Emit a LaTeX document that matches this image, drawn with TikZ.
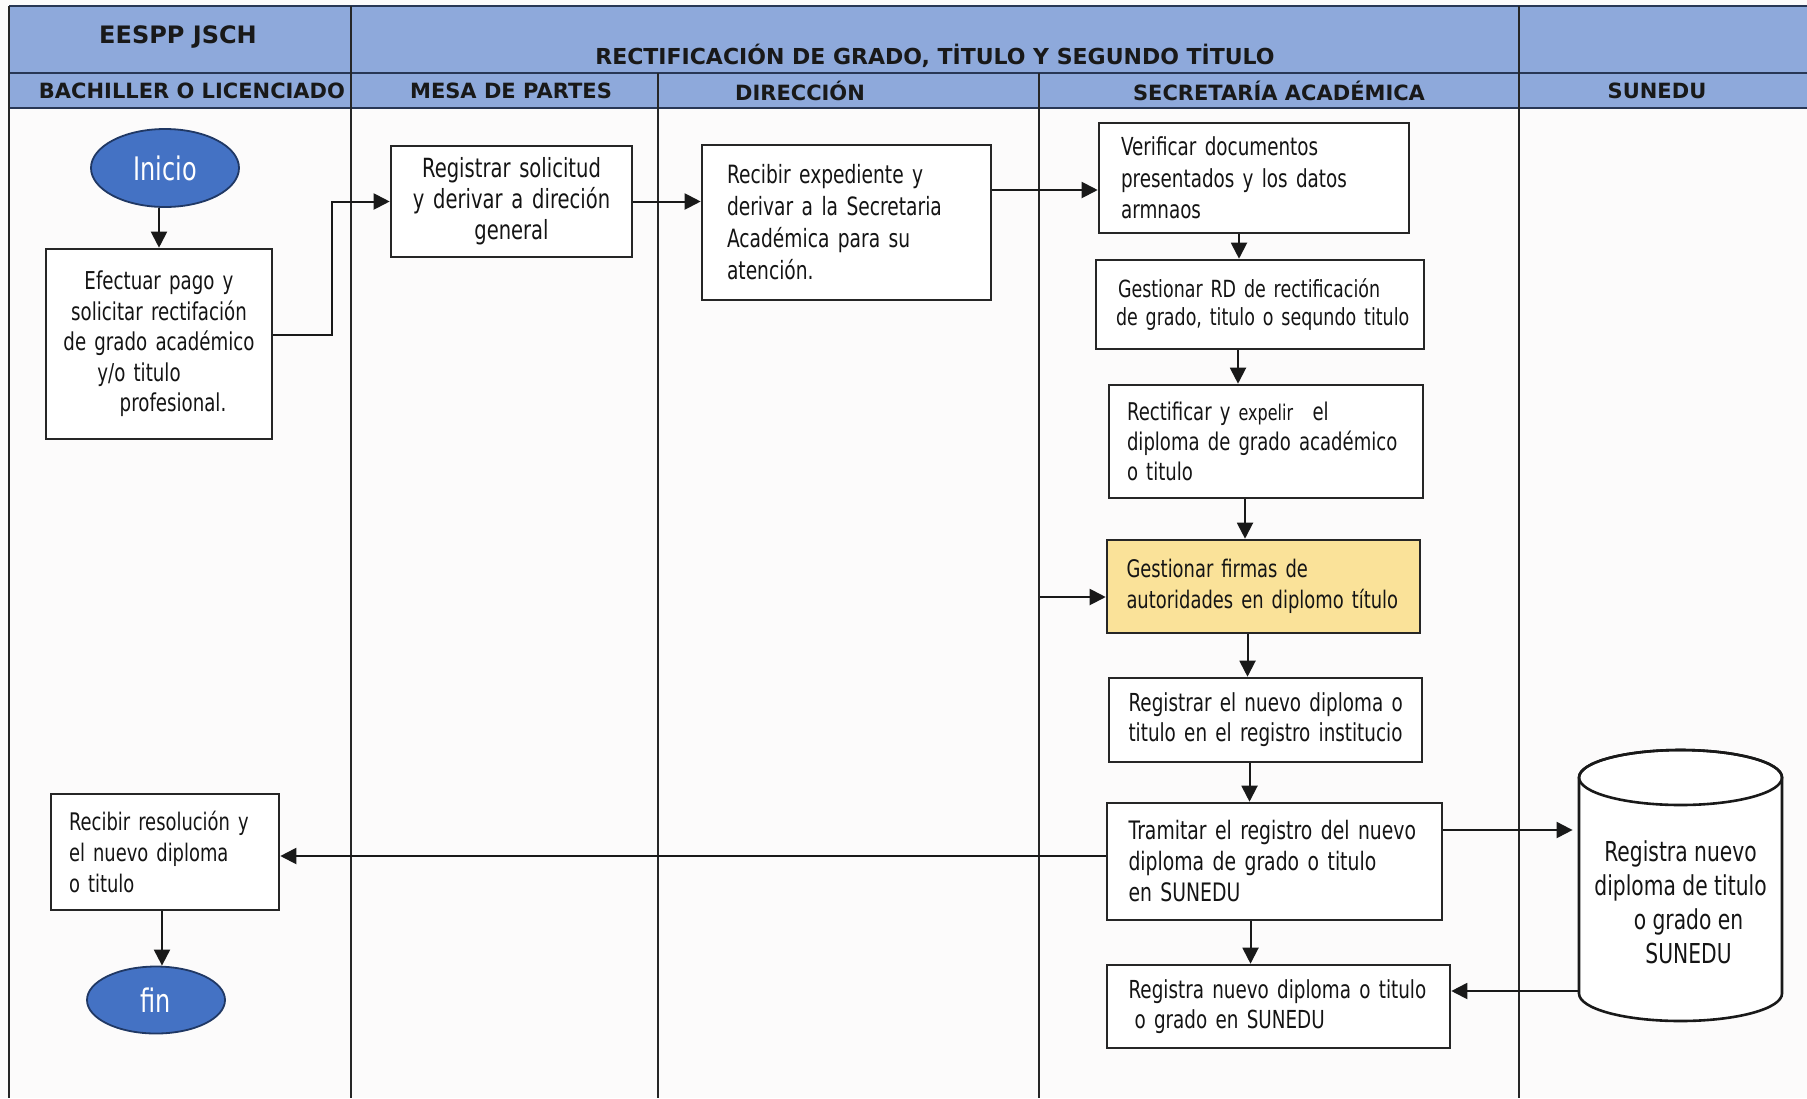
\documentclass[tikz,border=0pt]{standalone}
\usepackage{fontspec}
\setmainfont{DejaVu Sans}
\newfontfamily\bodyf{DejaVu Sans}[FakeStretch=0.74]
\newfontfamily\headf{DejaVu Sans}
\usetikzlibrary{arrows.meta,calc,shapes.geometric}
\definecolor{hdrblue}{RGB}{142,169,219}
\definecolor{hdrline}{RGB}{40,55,85}
\definecolor{termblue}{RGB}{68,114,196}
\definecolor{termline}{RGB}{32,56,100}
\definecolor{ylw}{RGB}{250,226,153}
\definecolor{bgc}{RGB}{252,251,251}
\newcommand{\fs}[2]{\bodyf\fontsize{#1}{#2}\selectfont}
\hyphenpenalty=10000
\exhyphenpenalty=10000
\tikzset{
  box/.style={draw=black!85, line width=1.3pt, fill=white, inner ysep=3pt, align=left, text=black!92},
  arr/.style={line width=1pt, draw=black!90, -{Triangle[length=8pt,width=8pt]}},
  lane/.style={line width=1.2pt, draw=black!85},
  hline/.style={line width=1pt, draw=hdrline},
  hd/.style={font=\headf\bfseries\fontsize{10.5}{12}\selectfont, text=black!90, inner sep=0pt},
  term/.style={ellipse, draw=termline, line width=0.9pt, fill=termblue, text=white, inner sep=0pt, font=\fs{16.2}{18}}
}
\begin{document}
\begin{tikzpicture}[x=0.5pt,y=-0.5pt]
\useasboundingbox (0,0) rectangle (1807,1098);
\fill[bgc] (0,0) rectangle (1807,1098);
% header band
\fill[hdrblue] (9,6) rectangle (1807,108);
\draw[hline] (9,6) -- (1807,6);
\draw[hline] (9,73) -- (1807,73);
\draw[hline] (9,108) -- (1807,108);
% lanes
\draw[lane] (9,6) -- (9,1098);
\draw[lane] (351,6) -- (351,1098);
\draw[lane] (658,73) -- (658,1098);
\draw[lane] (1039,73) -- (1039,1098);
\draw[lane] (1519,6) -- (1519,1098);
% header texts
\node[hd, font=\headf\bfseries\fontsize{12}{14}\selectfont] (h0) at (178,37) {EESPP JSCH};
\node[hd, font=\headf\bfseries\fontsize{11}{13}\selectfont] (htitle) at (935,56) {RECTIFICACIÓN DE GRADO, TİTULO Y SEGUNDO TİTULO};
\node[hd] (h1) at (192,91) {BACHILLER O LICENCIADO};
\node[hd] (h2) at (511,91) {MESA DE PARTES};
\node[hd] (h3) at (800,91) {DIRECCIÓN};
\node[hd] (h4) at (1279,91) {SECRETARÍA ACADÉMICA};
\node[hd] (h5) at (1657,91) {SUNEDU};

% nodes
\node[term, minimum width=74pt, minimum height=39pt] (inicio) at (165,168) {Inicio};
\node[box, align=center, text width=100pt, inner xsep=6.5pt, minimum height=95pt, font=\fs{12.3}{15.3}] (efect) at (159,344)
  {Efectuar pago y\\ solicitar rectifación\\ de grado académico\\ \mbox{y/o titulo\hspace{20pt}}\\ \mbox{\hspace{14pt}profesional.}};
\node[box, align=center, text width=104pt, inner xsep=8.25pt, minimum height=55.5pt, font=\fs{13.2}{15.5}] (regsol) at (511.5,201.5)
  {Registrar solicitud\\ y derivar a direción\\ general};
\node[box, text width=119.5pt, inner xsep=12.5pt, minimum height=77.5pt, font=\fs{12.6}{16}] (recexp) at (846.5,222.5)
  {Recibir expediente y\\ derivar a la Secretaria\\ Académica para su\\ atención.};
\node[box, text width=133pt, inner xsep=11pt, minimum height=55pt, font=\fs{12.4}{15.8}] (verif) at (1254,178)
  {Verificar documentos\\ presentados y los datos\\ armnaos};
\node[box, text width=142pt, inner xsep=11pt, minimum height=44.5pt, font=\fs{11.8}{14.4}] (gestrd) at (1260,304.5)
  {\mbox{Gestionar RD de rectificación}\\ \mbox{\hspace*{-1pt}de grado, titulo o sequndo titulo}};
\node[box, text width=139pt, inner xsep=9pt, minimum height=56.5pt, font=\fs{12.2}{15}] (rectif) at (1266,441.5)
  {\mbox{Rectificar y {\fontsize{10.8}{15}\selectfont expelir}\hspace{0.8em}el}\\ \mbox{diploma de grado académico}\\ o titulo};
\node[box, fill=ylw, text width=137pt, inner xsep=9.75pt, minimum height=46.5pt, font=\fs{12.1}{15.5}] (firmas) at (1263.5,586.5)
  {Gestionar firmas de\\ \mbox{autoridades en diplomo título}};
\node[box, text width=137pt, inner xsep=9.75pt, minimum height=42pt, font=\fs{12.4}{15}] (regnuevo) at (1265.5,720)
  {\mbox{Registrar el nuevo diploma o}\\ \mbox{titulo en el registro institucio}};
\node[box, text width=146pt, inner xsep=10.75pt, minimum height=58.5pt, font=\fs{12.7}{15.5}] (tramitar) at (1274.5,861.5)
  {\mbox{Tramitar el registro del nuevo}\\ diploma de grado o titulo\\ en SUNEDU};
\node[box, text width=150pt, inner xsep=10.75pt, minimum height=41.5pt, font=\fs{12.4}{15}] (registra) at (1278.5,1006.5)
  {\mbox{Registra nuevo diploma o titulo}\\ \hspace*{3pt}o grado en SUNEDU};
\node[box, text width=96pt, inner xsep=9pt, minimum height=58pt, font=\fs{12.1}{15.3}] (recres) at (165,852)
  {\mbox{Recibir resolución y}\\ el nuevo diploma\\ o titulo};
\node[term, minimum width=69pt, minimum height=33.5pt] (fin) at (156,1000) {fin};

% cylinder (SUNEDU)
\coordinate (cylc) at (1680.5,885.5);
\filldraw[fill=white, draw=black!90, line width=1.3pt]
  ($(cylc)+(-101.5,-108)$) -- ($(cylc)+(-101.5,108)$)
  arc[start angle=180, end angle=360, x radius=50.75pt, y radius=13.75pt]
  -- ($(cylc)+(101.5,-108)$)
  arc[start angle=0, end angle=180, x radius=50.75pt, y radius=13.75pt] -- cycle;
\draw[black!90, line width=1.3pt] ($(cylc)+(0,-108)$) ellipse[x radius=50.75pt, y radius=13.75pt];
\node[align=center, minimum width=101.5pt, inner sep=0pt, text=black!92, font=\fs{13.7}{17}] (cyl) at (1680.5,902)
  {Registra nuevo\\ diploma de titulo\\ \hspace*{8pt}o grado en\\ \hspace*{8pt}SUNEDU};

% connectors
\draw[arr] (efect.north |- inicio.south) -- (efect.north);
\draw[arr] ([yshift=4.5pt]efect.east) -- ++(29.5pt,0) |- (regsol.west);
\draw[arr] (regsol.east) -- (regsol.east -| recexp.west);
\draw[arr] ([yshift=16.25pt]recexp.east) -- ([yshift=16.25pt]recexp.east -| verif.west);
\draw[arr] ([xshift=-7.5pt]verif.south) -- ([xshift=-7.5pt]verif.south |- gestrd.north);
\draw[arr] ([xshift=-11pt]gestrd.south) -- ([xshift=-11pt]gestrd.south |- rectif.north);
\draw[arr] ([xshift=-10.5pt]rectif.south) -- ([xshift=-10.5pt]rectif.south |- firmas.north);
\coordinate (firmasin) at (1040,597);
\draw[arr] (firmasin) -- (firmasin -| firmas.west);
\draw[arr] ([xshift=-8pt]firmas.south) -- ([xshift=-8pt]firmas.south |- regnuevo.north);
\draw[arr] ([xshift=-8pt]regnuevo.south) -- ([xshift=-8pt]regnuevo.south |- tramitar.north);
\draw[arr] ([xshift=-12pt]tramitar.south) -- ([xshift=-12pt]tramitar.south |- registra.north);
\draw[arr] ([yshift=2.75pt]tramitar.west) -- ([yshift=2.75pt]tramitar.west -| recres.east);
\draw[arr] ([yshift=15.75pt]tramitar.east) -- ([yshift=15.75pt,xshift=-3pt]tramitar.east -| cyl.west);
\draw[arr] ([yshift=7.75pt]registra.east -| cyl.west) -- ([yshift=7.75pt]registra.east);
\draw[arr] ([xshift=-1.5pt]recres.south) -- ([xshift=-1.5pt]recres.south |- fin.north);
\end{tikzpicture}
\end{document}
